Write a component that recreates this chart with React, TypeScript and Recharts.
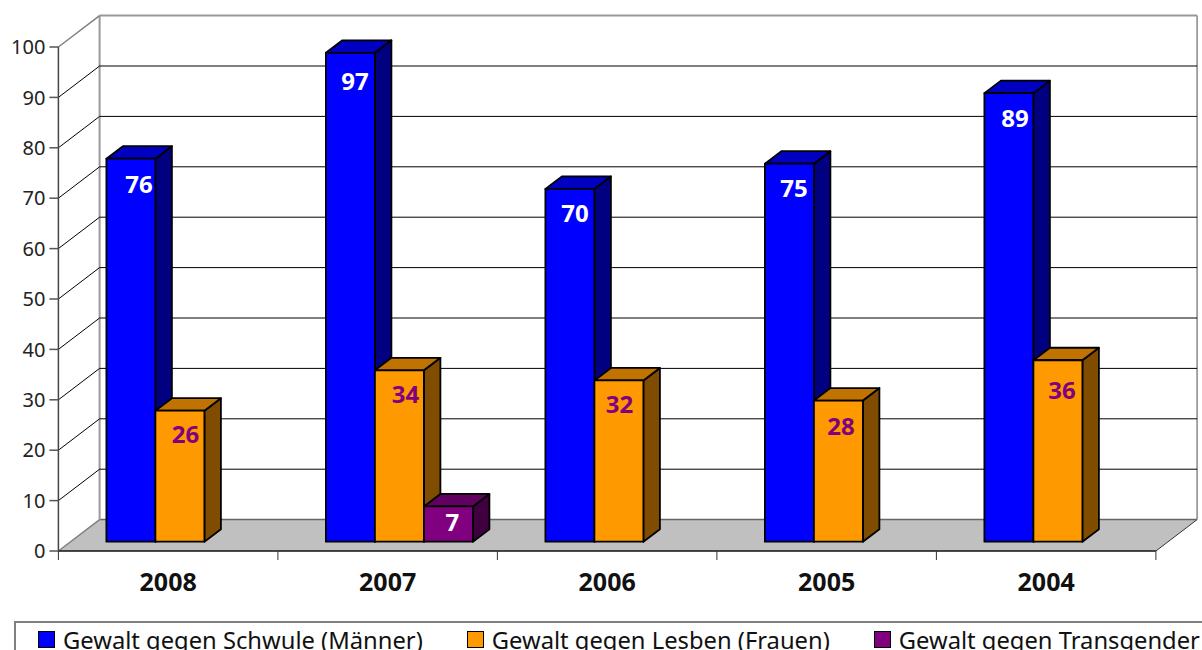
import { BarChart, Bar, XAxis, YAxis, CartesianGrid, Legend, LabelList } from "recharts";

const years = ["2008", "2007", "2006", "2005", "2004"];
const schwule = [76, 97, 70, 75, 89];
const lesben = [26, 34, 32, 28, 36];
const transgender = [null, 7, null, null, null];
const yTicks = [0, 10, 20, 30, 40, 50, 60, 70, 80, 90, 100];

const data = years.map((jahr, i) => ({
  jahr,
  schwule: schwule[i],
  lesben: lesben[i],
  transgender: transgender[i],
}));

const FONT = "'Noto Sans', sans-serif";
const WALL_DX = 41.2;
const WALL_DY = 31.4;
const BAR_DX = 12;
const BAR_DY = 9.3;
const DEPTH_DX = 16.5;
const DEPTH_DY = 12.5;
const CATEGORY_STEP = 219.5;

const faces: Record<string, { side: string; top: string }> = {
  "#0000ff": { side: "#000080", top: "#0000c0" },
  "#ff9900": { side: "#804d00", top: "#c07300" },
  "#800080": { side: "#400040", top: "#600060" },
};

// the labels do not sit at one fixed place on the bars: [dx from bar centre, baseline below bar top]
const labelPlace: Record<number, [number, number]> = {
  76: [8, 34.5],
  97: [4.5, 37],
  70: [5, 33],
  75: [4.5, 33],
  89: [6, 34],
  26: [5.5, 32],
  34: [6, 33],
  32: [0.5, 33],
  28: [2.5, 34],
  36: [4, 39],
  7: [4, 24.5],
};

function Box3D(props: any) {
  const { x, y, width, height, fill } = props;
  if (!height) return null;
  const l = x + BAR_DX;
  const t = y - BAR_DY;
  const r = l + width;
  const b = t + height;
  const line = { stroke: "#000", strokeWidth: 1.8, strokeLinejoin: "round" as const };
  return (
    <g>
      <polygon points={`${r},${t} ${r + DEPTH_DX},${t - DEPTH_DY} ${r + DEPTH_DX},${b - DEPTH_DY} ${r},${b}`} fill={faces[fill].side} {...line} />
      <polygon points={`${l},${t} ${l + DEPTH_DX},${t - DEPTH_DY} ${r + DEPTH_DX},${t - DEPTH_DY} ${r},${t}`} fill={faces[fill].top} {...line} />
      <rect x={l} y={t} width={width} height={height} fill={fill} {...line} />
    </g>
  );
}

function valueLabel(color: string) {
  return (props: any) => {
    const { x, y, width, value } = props;
    if (value == null) return null;
    const [dx, dy] = labelPlace[value];
    return (
      <text x={x + BAR_DX + width / 2 + dx} y={y - BAR_DY + dy} textAnchor="middle" fill={color} fontFamily={FONT} fontWeight={700} fontSize={24}>
        {value}
      </text>
    );
  };
}

// wall and floor lines, one set per y tick
function WallLine(props: any) {
  const { x1, x2, y1 } = props;
  const isFloor = y1 > 550;
  const isTop = y1 < 48;
  const bx1 = x1 + WALL_DX;
  const bx2 = x2 + WALL_DX;
  const by = y1 - WALL_DY;
  if (isFloor) {
    return (
      <g>
        <polygon points={`${x1},${y1} ${bx1},${by} ${bx2},${by} ${x2},${y1}`} fill="#c0c0c0" stroke="none" />
        <line x1={bx1} y1={by} x2={bx2} y2={by} stroke="#666" strokeWidth={1.5} />
        <line x1={x1} y1={y1} x2={bx1} y2={by} stroke="#808080" strokeWidth={1.5} />
        <line x1={x2} y1={y1} x2={bx2} y2={by} stroke="#333" strokeWidth={1} />
        <line x1={bx1} y1={by} x2={bx1} y2={by - 504} stroke="#999" strokeWidth={2} />
        <line x1={bx2} y1={by} x2={bx2} y2={by - 504} stroke="#888" strokeWidth={1.5} />
      </g>
    );
  }
  return (
    <g>
      <line x1={x1} y1={y1} x2={bx1} y2={by} stroke={isTop ? "#808080" : "#000"} strokeWidth={isTop ? 1.5 : 1} />
      <line x1={bx1} y1={by} x2={bx2} y2={by} stroke={isTop ? "#999" : "#000"} strokeWidth={isTop ? 2 : 1} />
    </g>
  );
}

function YearTick(props: any) {
  const { x, y, payload, index } = props;
  const tickX = x - CATEGORY_STEP / 2;
  return (
    <g>
      <line x1={tickX} y1={y - 8} x2={tickX} y2={y + 1} stroke="#333" strokeWidth={1} />
      {index === years.length - 1 && (
        <line x1={tickX + CATEGORY_STEP} y1={y - 8} x2={tickX + CATEGORY_STEP} y2={y + 1} stroke="#333" strokeWidth={1} />
      )}
      <text x={x} y={y + 32} textAnchor="middle" fill="#111" fontFamily={FONT} fontWeight={700} fontSize={25}>
        {payload.value}
      </text>
    </g>
  );
}

function LegendBox(props: any) {
  const items = props.payload || [];
  return (
    <div
      style={{
        height: 29,
        boxSizing: "border-box",
        borderTop: "2px solid #808080",
        borderLeft: "2px solid #808080",
        overflow: "hidden",
        display: "flex",
        paddingLeft: 22,
        fontFamily: FONT,
        fontSize: 23.75,
        color: "#111",
        lineHeight: "34px",
        whiteSpace: "nowrap",
        textAlign: "left",
      }}
    >
      {items.map((it: any) => (
        <span key={it.value} style={{ display: "flex", marginRight: 44 }}>
          <span
            style={{
              width: 15,
              height: 15,
              marginTop: 8,
              marginRight: 8,
              background: it.color,
              border: "1.5px solid #000",
            }}
          />
          {it.value}
        </span>
      ))}
    </div>
  );
}

export default function App() {
  return (
    <div style={{ position: "absolute", left: 0, top: 0, width: 1202, height: 650, overflow: "hidden", background: "#fff" }}>
      <BarChart
        width={1202}
        height={650}
        data={data}
        barSize={49}
        barGap={0}
        margin={{ top: 47, right: 46.1, left: 0, bottom: 0 }}
      >
        <CartesianGrid vertical={false} horizontal={WallLine} />
        <XAxis dataKey="jahr" height={70} interval={0} axisLine={{ stroke: "#111", strokeWidth: 1.5 }} tickLine={false} tick={YearTick} />
        <YAxis
          domain={[0, 100]}
          ticks={yTicks}
          width={58.4}
          interval={0}
          axisLine={{ stroke: "#444", strokeWidth: 1.5 }}
          tickLine={{ stroke: "#555", strokeWidth: 1.5 }}
          tickSize={9}
          tickMargin={4}
          tick={{ fontFamily: FONT, fontSize: 20, fill: "#222" }}
        />
        <Legend
          verticalAlign="bottom"
          align="left"
          width={1188}
          height={29}
          wrapperStyle={{ left: 14, bottom: 0 }}
          itemSorter={null}
          content={LegendBox}
        />
        <Bar dataKey="schwule" name="Gewalt gegen Schwule (Männer)" fill="#0000ff" shape={Box3D} isAnimationActive={false}>
          <LabelList dataKey="schwule" content={valueLabel("#ffffff")} />
        </Bar>
        <Bar dataKey="lesben" name="Gewalt gegen Lesben (Frauen)" fill="#ff9900" shape={Box3D} isAnimationActive={false}>
          <LabelList dataKey="lesben" content={valueLabel("#800080")} />
        </Bar>
        <Bar dataKey="transgender" name="Gewalt gegen Transgender" fill="#800080" shape={Box3D} isAnimationActive={false}>
          <LabelList dataKey="transgender" content={valueLabel("#ffffff")} />
        </Bar>
      </BarChart>
    </div>
  );
}
